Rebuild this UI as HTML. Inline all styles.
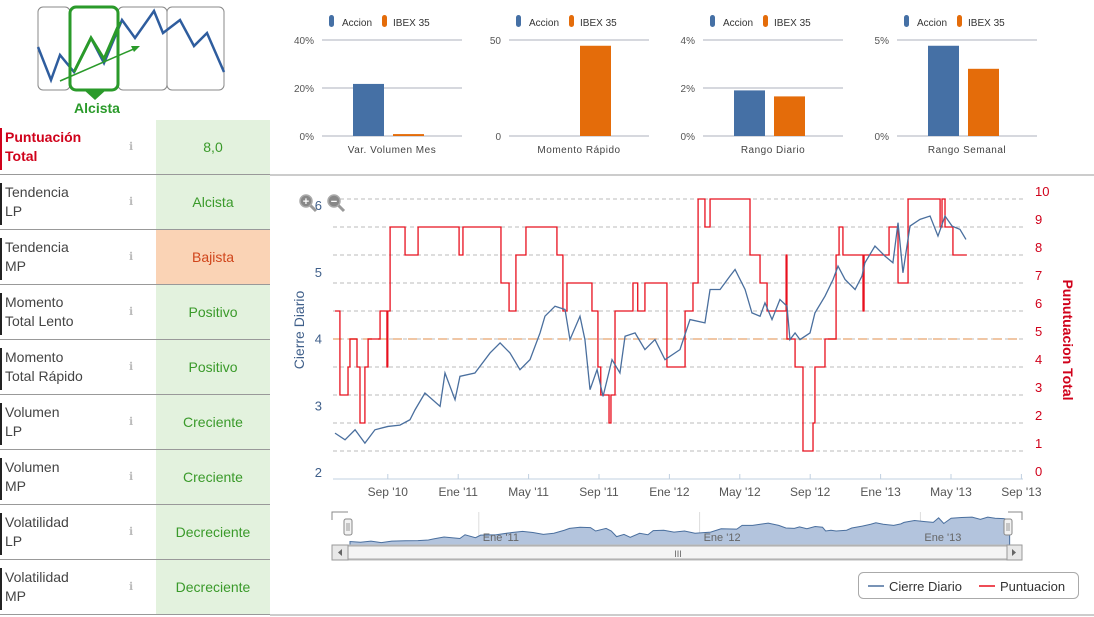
<!DOCTYPE html>
<html><head><meta charset="utf-8"><style>
body{margin:0;width:1094px;height:617px;background:#fff;font-family:"Liberation Sans",sans-serif;overflow:hidden;position:relative}
.row{position:absolute;left:0;width:270px;height:54px;border-bottom:1px solid #999}
.lbl{position:absolute;left:0;top:8px;height:42px;border-left:2px solid #222;padding-left:3px;font-size:14px;line-height:19px;color:#444}
.val{position:absolute;left:156px;width:114px;top:0;height:54px;background:#e3f2de;color:#3a9a2a;font-size:14px;text-align:center;line-height:54px}
.info{position:absolute;left:129px;top:20px;color:#bbb;font-size:11px}
</style></head><body>
<svg width="280" height="120" style="position:absolute;left:0;top:0">
<rect x="38" y="7" width="32" height="83" rx="5" fill="#fff" stroke="#888"/>
<rect x="118" y="7" width="49" height="83" rx="5" fill="#fff" stroke="#888"/>
<rect x="167" y="7" width="57" height="83" rx="5" fill="#fff" stroke="#888"/>
<polyline points="38,47 51,80 60,55 74,72 91,38 104,63 122,20 135,38 154,11 163,33 180,20 194,46 207,33 224,72" fill="none" stroke="#2f5d9e" stroke-width="2.5"/>
<rect x="70" y="7" width="48" height="83" rx="6" fill="none" stroke="#2a9a2a" stroke-width="3"/>
<polygon points="84,90 106,90 95,100" fill="#2a9a2a"/>
<polyline points="74,72 91,38 104,59 120,22" fill="none" stroke="#2a9a2a" stroke-width="3"/>
<line x1="60" y1="81" x2="136" y2="48" stroke="#2a9a2a" stroke-width="1.5"/>
<polygon points="140,46 131,46 134,52" fill="#2a9a2a"/>
<text x="97" y="113" text-anchor="middle" font-size="14" font-weight="bold" fill="#2a9a2a">Alcista</text>
</svg>

<div class="row" style="top:120px"><div class="lbl" style="border-color:#d0021b;color:#d0021b;font-weight:bold">Puntuación<br>Total</div><div class="info">ℹ</div><div class="val" style="color:#3a9a2a">8,0</div></div>
<div class="row" style="top:175px"><div class="lbl">Tendencia<br>LP</div><div class="info">ℹ</div><div class="val">Alcista</div></div>
<div class="row" style="top:230px"><div class="lbl">Tendencia<br>MP</div><div class="info">ℹ</div><div class="val" style="background:#fad3b5;color:#d0451b">Bajista</div></div>
<div class="row" style="top:285px"><div class="lbl">Momento<br>Total Lento</div><div class="info">ℹ</div><div class="val">Positivo</div></div>
<div class="row" style="top:340px"><div class="lbl">Momento<br>Total Rápido</div><div class="info">ℹ</div><div class="val">Positivo</div></div>
<div class="row" style="top:395px"><div class="lbl">Volumen<br>LP</div><div class="info">ℹ</div><div class="val">Creciente</div></div>
<div class="row" style="top:450px"><div class="lbl">Volumen<br>MP</div><div class="info">ℹ</div><div class="val">Creciente</div></div>
<div class="row" style="top:505px"><div class="lbl">Volatilidad<br>LP</div><div class="info">ℹ</div><div class="val">Decreciente</div></div>
<div class="row" style="top:560px"><div class="lbl">Volatilidad<br>MP</div><div class="info">ℹ</div><div class="val">Decreciente</div></div>

<svg id="main" width="1094" height="617" style="position:absolute;left:0;top:0">
<line x1="270" y1="175" x2="1094" y2="175" stroke="#999"/>
<line x1="270" y1="615" x2="1094" y2="615" stroke="#999"/>
</svg>
<script>
const NS="http://www.w3.org/2000/svg";
const svg=document.getElementById('main');
function mk(tag,at,parent){const e=document.createElementNS(NS,tag);for(const k in at)e.setAttribute(k,at[k]);(parent||svg).appendChild(e);return e;}
function tx(x,y,s,at){const e=mk('text',Object.assign({x:x,y:y},at));e.textContent=s;return e;}

// small bar charts data
const smallCats=["Var. Volumen Mes","Momento Rápido","Rango Diario","Rango Semanal"];
const accionVals=[21.7,0,1.9,4.7];
const ibexVals=[0.8,47,1.65,3.5];
const smallMax=[40,50,4,5];
const smallTicks=[["0%","20%","40%"],["0","50"],["0%","2%","4%"],["0%","5%"]];
const smallLeft=[322,509,703,897];

for(let i=0;i<4;i++){
  const g=mk('g',{});
  
  
  const L=smallLeft[i],W=140,top=40,bot=136;
  const yS=v=>bot-(v/smallMax[i])*(bot-top);
  const tk=smallTicks[i];
  tk.forEach((t,k)=>{const v=smallMax[i]*k/(tk.length-1);const y=yS(v);
    mk('line',{x1:L,y1:y,x2:L+W,y2:y,stroke:'#c8ccd4','stroke-width':1.5},g);
    const t2=tx(L-8,y+4,t,{'text-anchor':'end','font-size':10,fill:'#555'});g.appendChild(t2);});
  const a=mk('rect',{x:L+31,y:yS(accionVals[i]),width:31,height:bot-yS(accionVals[i]),fill:'#4570a5'},g);
  
  const b=mk('rect',{x:L+71,y:yS(ibexVals[i]),width:31,height:bot-yS(ibexVals[i]),fill:'#e46c0a'},g);
  
  g.appendChild(tx(L+W/2,153,smallCats[i],{'text-anchor':'middle','font-size':10,fill:'#444','letter-spacing':'0.5'}));
  const lg=mk('g',{},g);
  
  mk('rect',{x:L+7,y:15,width:5,height:12,rx:2.5,fill:'#4570a5'},lg);
  lg.appendChild(tx(L+20,26,'Accion',{'font-size':10,fill:'#333'}));
  mk('rect',{x:L+60,y:15,width:5,height:12,rx:2.5,fill:'#e46c0a'},lg);
  lg.appendChild(tx(L+71,26,'IBEX 35',{'font-size':10,fill:'#333'}));
}

// main chart data (t = months since Jun 2010)
const closeT=[0,0.57,1.14,1.7,2.27,3.01,3.69,4.26,4.55,5.11,5.97,6.25,6.82,7.1,7.95,8.81,9.38,9.94,10.51,11.08,11.65,11.93,12.5,13.07,13.35,13.92,14.2,14.49,14.89,15.23,15.74,16.19,16.48,17.05,17.61,18.18,18.75,19.6,20.17,21.02,21.31,21.88,22.44,22.73,23.3,23.69,24.15,24.43,24.83,25.28,25.68,25.85,26.14,26.42,26.99,27.27,27.84,28.3,28.58,28.98,29.55,29.94,30.11,30.68,31.25,31.7,31.99,32.27,32.67,33.24,33.81,34.26,34.66,35.06,35.51,35.85];
const closeV=[2.6,2.5,2.65,2.45,2.65,2.7,2.72,2.8,2.95,3.2,3.0,3.5,3.1,3.45,3.5,3.8,3.95,3.8,3.55,3.7,4.1,4.35,4.5,4.45,4.0,4.35,4.0,3.25,3.55,3.15,3.7,3.5,4.05,4.1,3.85,4.0,3.7,3.85,4.3,4.25,4.75,4.75,4.95,5.05,4.75,4.4,4.35,4.55,4.3,4.6,4.5,4.0,4.1,4.0,4.1,4.4,4.65,4.9,5.1,4.9,4.75,4.95,5.15,5.4,5.25,5.15,5.75,5.0,5.7,5.8,5.85,5.55,5.85,5.7,5.65,5.5];
const scoreT=[0,0.28,0.74,0.85,1.25,1.42,1.7,1.88,2.56,2.95,3.0,3.13,3.98,4.72,7.05,7.27,9.43,9.89,10.28,10.85,12.61,12.95,13.18,14.6,14.94,15.1,15.57,15.68,15.91,16.93,17.2,17.61,18.86,19.89,20.34,20.63,21.02,21.31,23.58,24.15,24.55,25.63,25.68,26.14,26.59,27.16,27.27,27.84,28.47,28.64,28.86,30.0,30.06,31.48,31.99,32.56,34.38,34.49,34.66,35.11,35.9];
const scoreV=[6,3,4,5,4,2,4,5,6,4,6,9,8,9,8,9,7,6,8,9,8,6,7,6,4,3,2,3,6,7,6,7,4,6,7,10,9,10,8,7,6,8,5,4,1,2,4,5,8,9,8,6,8,9,7,10,9,10,9,8,8];
const leftTicks=[2,3,4,5,6];
const rightTicks=[0,1,2,3,4,5,6,7,8,9,10];
const xTickT=[3,7,11,15,19,23,27,31,35,39];
const xTickLabels=["Sep '10","Ene '11","May '11","Sep '11","Ene '12","May '12","Sep '12","Ene '13","May '13","Sep '13"];
const navTickT=[7,19,31];
const navTickLabels=["Ene '11","Ene '12","Ene '13"];
const refLine=5;

const X=t=>335+t*17.6;
const YL=v=>206+(6-v)*66.8;
const YR=v=>479-v*28;
const XN=t=>350+t*18.4;
const YN=v=>546-(v-2)*7.5;

rightTicks.forEach(v=>{if(v>0){const l=mk('line',{x1:333,y1:YR(v),x2:1023,y2:YR(v),stroke:'#bbb','stroke-dasharray':'4,3'});
 }
 const t=tx(1035,YR(v)-3,String(v),{'font-size':13,fill:'#d0021b'});
 });
leftTicks.forEach(v=>{const t=tx(322,YL(v)+4,String(v),{'font-size':13,fill:'#3f5f8a','text-anchor':'end'});
 });
const rl=mk('line',{x1:333,y1:YR(refLine),x2:1023,y2:YR(refLine),stroke:'#f0c6a4','stroke-width':2,'stroke-dasharray':'9,6'});

const ax=mk('line',{x1:333,y1:479,x2:1023,y2:479,stroke:'#c0d0e0'});

xTickT.forEach((t,i)=>{mk('line',{x1:X(t),y1:479,x2:X(t),y2:474,stroke:'#c0d0e0'});
 const e=tx(X(t),496,xTickLabels[i],{'font-size':12,fill:'#555','text-anchor':'middle'});
 });

let d='';
for(let i=0;i<scoreT.length;i++){const x=X(scoreT[i]),y=YR(scoreV[i]);
 d+=(i?'L'+x+','+YR(scoreV[i-1])+'L':'M')+x+','+y;}
const rp=mk('path',{d:d,fill:'none',stroke:'#e8101e','stroke-width':1.3});

const bp=mk('polyline',{points:closeT.map((t,i)=>X(t)+','+YL(closeV[i])).join(' '),fill:'none',stroke:'#4a6f9e','stroke-width':1.3});


const lt=tx(304,330,'Cierre Diario',{'font-size':14,fill:'#3f5f8a','text-anchor':'middle',transform:'rotate(-90 304 330)'});

const rt=tx(1063,340,'Punutuacion Total',{'font-size':14,fill:'#d0021b','text-anchor':'middle','font-weight':'bold',transform:'rotate(90 1063 340)'});


[[306,'+','zoom-in-button'],[334,'−','zoom-out-button']].forEach(z=>{const g=mk('g',{});
 
 mk('line',{x1:z[0]+4,y1:205,x2:z[0]+10,y2:211,stroke:'#999','stroke-width':3},g);
 mk('circle',{cx:z[0],cy:201,r:6,fill:'#888',stroke:'#aaa','stroke-width':1.5},g);
 const t=tx(z[0],205,z[1],{'font-size':11,'font-weight':'bold',fill:'#fff','text-anchor':'middle'});g.appendChild(t);});

// navigator
const nav=mk('g',{});

mk('path',{d:'M332,520V512H348M1008,512H1022V520',fill:'none',stroke:'#888'},nav);
navTickT.forEach((t,i)=>{mk('line',{x1:XN(t),y1:512,x2:XN(t),y2:545,stroke:'#ddd'},nav);});
let a='M'+XN(closeT[0])+',546';closeT.forEach((t,i)=>{a+='L'+XN(t)+','+YN(closeV[i]);});a+='L'+XN(closeT[closeT.length-1])+',546Z';
mk('path',{d:a,fill:'#b3c4dd',stroke:'#4a6f9e','stroke-width':1},nav);
navTickT.forEach((t,i)=>{nav.appendChild(tx(XN(t)+4,541,navTickLabels[i],{'font-size':11,fill:'#666'}));});
[344,1004].forEach(x=>{mk('rect',{x:x,y:519,width:8,height:16,rx:2,fill:'#f2f2f2',stroke:'#888'},nav);
 mk('line',{x1:x+3,y1:523,x2:x+3,y2:531,stroke:'#999'},nav);mk('line',{x1:x+5,y1:523,x2:x+5,y2:531,stroke:'#999'},nav);});
const sb=mk('g',{});

mk('rect',{x:332,y:545,width:690,height:15,fill:'#eee',stroke:'#bbb'},sb);
mk('rect',{x:348,y:546,width:660,height:13,fill:'#f4f4f4',stroke:'#aaa'},sb);
mk('rect',{x:332,y:545,width:16,height:15,fill:'#e8e8e8',stroke:'#999'},sb);
mk('rect',{x:1007,y:545,width:15,height:15,fill:'#e8e8e8',stroke:'#999'},sb);
mk('path',{d:'M342,549L338,552.5L342,556Z',fill:'#666'},sb);
mk('path',{d:'M1012,549L1016,552.5L1012,556Z',fill:'#666'},sb);
sb.appendChild(tx(678,557,'III',{'font-size':9,fill:'#666','text-anchor':'middle'}));

// legend
const lg=mk('g',{});

mk('rect',{x:858.5,y:572.5,width:220,height:26,rx:5,fill:'#fff',stroke:'#aaa'},lg);
mk('line',{x1:868,y1:586,x2:884,y2:586,stroke:'#4a6f9e','stroke-width':1.5},lg);
lg.appendChild(tx(889,591,'Cierre Diario',{'font-size':13,fill:'#333'}));
mk('line',{x1:979,y1:586,x2:995,y2:586,stroke:'#e8101e','stroke-width':1.5},lg);
lg.appendChild(tx(1000,591,'Puntuacion',{'font-size':13,fill:'#333'}));
</script>
</body></html>
